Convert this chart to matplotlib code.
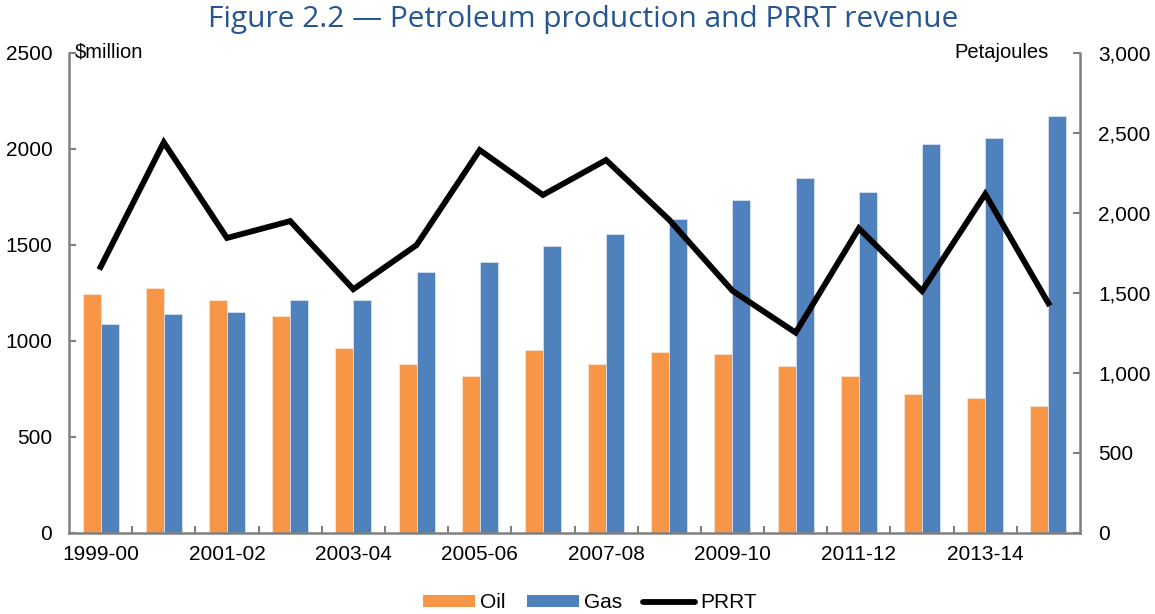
import matplotlib
matplotlib.use("Agg")
import matplotlib.pyplot as plt
import numpy as np
from matplotlib.patches import Patch
from matplotlib.lines import Line2D
from matplotlib.ticker import FuncFormatter

# data
years = ["1999-00", "2000-01", "2001-02", "2002-03", "2003-04", "2004-05",
         "2005-06", "2006-07", "2007-08", "2008-09", "2009-10", "2010-11",
         "2011-12", "2012-13", "2013-14", "2014-15"]
oil = [1492, 1529, 1454, 1354, 1156, 1054, 979, 1142, 1054, 1129, 1117, 1042,
       979, 867, 842, 792]          # petajoules
gas = [1304, 1367, 1379, 1454, 1454, 1629, 1692, 1792, 1867, 1959, 2079, 2217,
       2129, 2429, 2467, 2604]      # petajoules
prrt = [1384, 2033, 1535, 1623, 1268, 1498, 1993, 1759, 1941, 1629, 1260, 1042,
        1585, 1259, 1764, 1195]     # $million

left_ticks = [0, 500, 1000, 1500, 2000, 2500]
right_ticks = [0, 500, 1000, 1500, 2000, 2500, 3000]

ORANGE = "#F79646"
BLUE = "#4F81BD"
GREY = "#808080"
FONT = "Liberation Sans"
FS = 15

plt.rcParams["font.family"] = [FONT, "DejaVu Sans"]

fig = plt.figure(figsize=(11.55, 6.14), dpi=100)
ax = fig.add_axes([69/1155, 1-532.7/614, (1080-69)/1155, (532.7-52.7)/614])
ax2 = ax.twinx()

x = np.arange(len(years))
w = 0.285
ax2.bar(x - w/2, oil, w, color=ORANGE, edgecolor="#fbe3cf", linewidth=0.6)
ax2.bar(x + w/2, gas, w, color=BLUE, edgecolor="#d5e1f0", linewidth=0.6)
ax.plot(x, prrt, color="black", lw=4.2, solid_joinstyle="miter")

# line above bars
ax.set_zorder(ax2.get_zorder() + 1)
ax.patch.set_visible(False)

ax.set_xlim(-0.5, len(years) - 0.5)
ax.set_ylim(0, 2500)
ax2.set_ylim(0, 3000)
ax.set_yticks(left_ticks)
ax2.set_yticks(right_ticks)
ax2.yaxis.set_major_formatter(FuncFormatter(lambda v, p: f"{int(v):,}"))

for a in (ax, ax2):
    a.spines["top"].set_visible(False)
    for s in ("left", "right", "bottom"):
        a.spines[s].set_color(GREY)
        a.spines[s].set_linewidth(1.8)
ax.spines["right"].set_visible(False)
ax2.spines["left"].set_visible(False)
ax2.spines["bottom"].set_visible(False)

ax.tick_params(axis="y", direction="in", length=5, width=1.5, color=GREY,
               labelsize=FS, pad=12)
ax2.tick_params(axis="y", direction="in", length=5, width=1.5, color=GREY,
                labelsize=FS, pad=13)

ax.set_xticks(x[::2])
ax.set_xticklabels(years[::2])
ax.set_xticks(np.arange(0.5, len(years) - 1, 1.0), minor=True)
ax.tick_params(axis="x", which="major", length=0, labelsize=FS, pad=9)
ax.tick_params(axis="x", which="minor", direction="in", length=5, width=1.5,
               color=GREY)

fig.text(75/1155, 1-52/614, "$million", fontsize=14.5, ha="left", va="center")
fig.text(1049/1155, 1-52/614, "Petajoules", fontsize=14.5, ha="right",
         va="center")

fig.text(583/1155, 1-27/614,
         "Figure 2.2 \u2014 Petroleum production and PRRT revenue",
         fontsize=21.5, color="#265591", ha="center", va="baseline",
         family=["Open Sans", "DejaVu Sans"])

handles = [Patch(facecolor=ORANGE, edgecolor="none"),
           Patch(facecolor=BLUE, edgecolor="none"),
           Line2D([], [], color="black", lw=4.2, solid_capstyle="round")]
fig.legend(handles, ["Oil", "Gas", "PRRT"], loc="center", ncol=3,
           bbox_to_anchor=(590/1155, 1-603/614), frameon=False,
           fontsize=FS, handlelength=2.5, handleheight=0.45,
           handletextpad=0.25, columnspacing=1.0)

fig.savefig("out.png", dpi=100)
